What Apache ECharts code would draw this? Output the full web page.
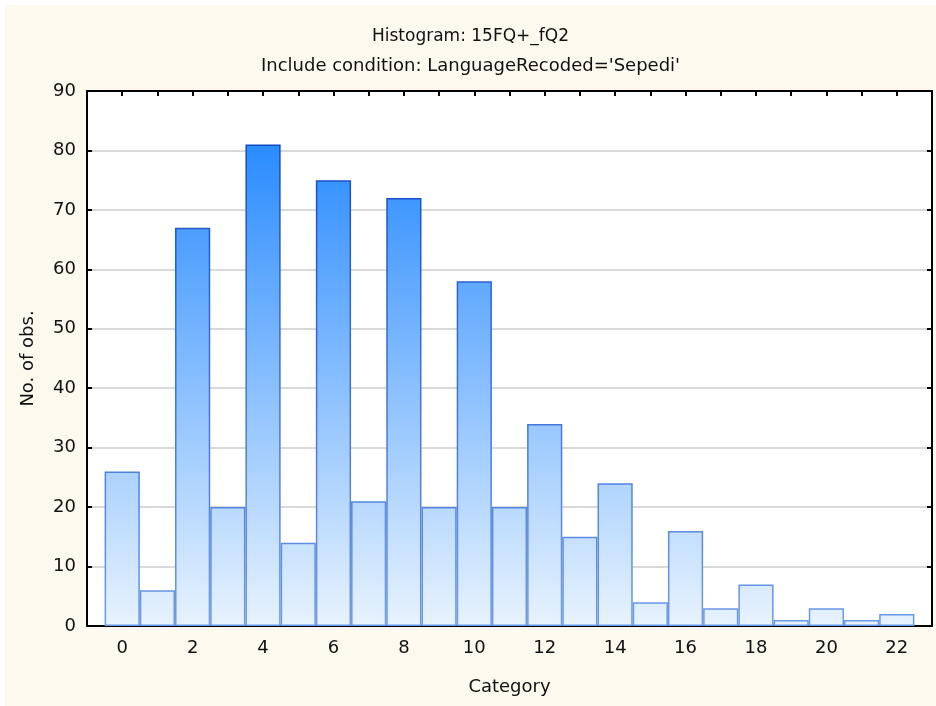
<!DOCTYPE html>
<html>
<head>
<meta charset="utf-8">
<script src="https://cdn.jsdelivr.net/npm/echarts@6/dist/echarts.min.js"></script>
<style>
html,body{margin:0;padding:0;background:#ffffff;}
#chart{position:absolute;left:5px;top:5px;width:931px;height:701px;background:#FDF9EE;}
</style>
</head>
<body>
<div id="chart"></div>
<script>
const titleText = 'Histogram: 15FQ+_fQ2';
const subtitleText = "Include condition: LanguageRecoded='Sepedi'";
const xAxisName = 'Category';
const yAxisName = 'No. of obs.';
const categories = [0,1,2,3,4,5,6,7,8,9,10,11,12,13,14,15,16,17,18,19,20,21,22];
const counts = [26,6,67,20,81,14,75,21,72,20,58,20,34,15,24,4,16,3,7,1,3,1,2];
const xMin = -1, xMax = 23;
const yMin = 0, yMax = 90, yStep = 10;

const W = 931, H = 701;
const grid = {left: 82, top: 86, right: 4, bottom: 80};
const plotTop = grid.top, plotBottom = H - grid.bottom;
const barW = (W - grid.left - grid.right) / (xMax - xMin);

const fill = new echarts.graphic.LinearGradient(0, plotTop, 0, plotBottom, [
  {offset: 0, color: '#1580FF'},
  {offset: 1, color: '#E8F3FD'}
], true);
const stroke = new echarts.graphic.LinearGradient(0, plotTop, 0, plotBottom, [
  {offset: 0, color: '#0840C0'},
  {offset: 1, color: '#6C9AEA'}
], true);

const chart = echarts.init(document.getElementById('chart'), null, {renderer: 'canvas'});
const font = 'DejaVu Sans, sans-serif';
chart.setOption({
  animation: false,
  backgroundColor: '#FDF9EE',
  title: [
    {text: titleText, left: 'center', top: 18, textStyle: {fontFamily: font, fontSize: 17, fontWeight: 'normal', color: '#111'}},
    {text: subtitleText, left: 'center', top: 47, textStyle: {fontFamily: font, fontSize: 18, fontWeight: 'normal', color: '#111'}}
  ],
  grid: {left: grid.left, top: grid.top, right: grid.right, bottom: grid.bottom, show: true, backgroundColor: '#ffffff', borderWidth: 0},
  xAxis: [{
    type: 'value', min: xMin, max: xMax, interval: 1,
    name: xAxisName, nameLocation: 'middle', nameGap: 52,
    nameTextStyle: {fontFamily: font, fontSize: 18, color: '#111'},
    axisLine: {show: true, onZero: false, lineStyle: {color: '#000', width: 2}},
    axisTick: {show: true, inside: true, length: 5, lineStyle: {color: '#000', width: 2}},
    axisLabel: {fontFamily: font, fontSize: 18, color: '#111', margin: 13,
      formatter: v => (v >= 0 && v <= 22 && v % 2 === 0) ? String(v) : ''},
    splitLine: {show: false}
  }, {
    type: 'value', position: 'top', min: xMin, max: xMax, interval: 1,
    axisLine: {show: true, onZero: false, lineStyle: {color: '#000', width: 2}},
    axisTick: {show: true, inside: true, length: 5, lineStyle: {color: '#000', width: 2}},
    axisLabel: {show: false}, splitLine: {show: false}
  }],
  yAxis: [{
    type: 'value', min: yMin, max: yMax, interval: yStep,
    name: yAxisName, nameLocation: 'middle', nameGap: 50,
    nameTextStyle: {fontFamily: font, fontSize: 18, color: '#111'},
    axisLine: {show: true, onZero: false, lineStyle: {color: '#000', width: 2}},
    axisTick: {show: true, inside: true, length: 5, lineStyle: {color: '#000', width: 2}},
    axisLabel: {fontFamily: font, fontSize: 18, color: '#111', margin: 11},
    splitLine: {show: true, lineStyle: {color: '#D9D9D9', width: 2}}
  }, {
    type: 'value', position: 'right', min: yMin, max: yMax, interval: yStep,
    axisLine: {show: true, onZero: false, lineStyle: {color: '#000', width: 2}},
    axisTick: {show: true, inside: true, length: 5, lineStyle: {color: '#000', width: 2}},
    axisLabel: {show: false}, splitLine: {show: false}
  }],
  series: [{
    type: 'bar',
    xAxisIndex: 0, yAxisIndex: 0,
    data: categories.map((c, i) => [c, counts[i]]),
    barWidth: barW,
    itemStyle: {color: fill, borderColor: stroke, borderWidth: 1.5}
  }]
});
</script>
</body>
</html>
